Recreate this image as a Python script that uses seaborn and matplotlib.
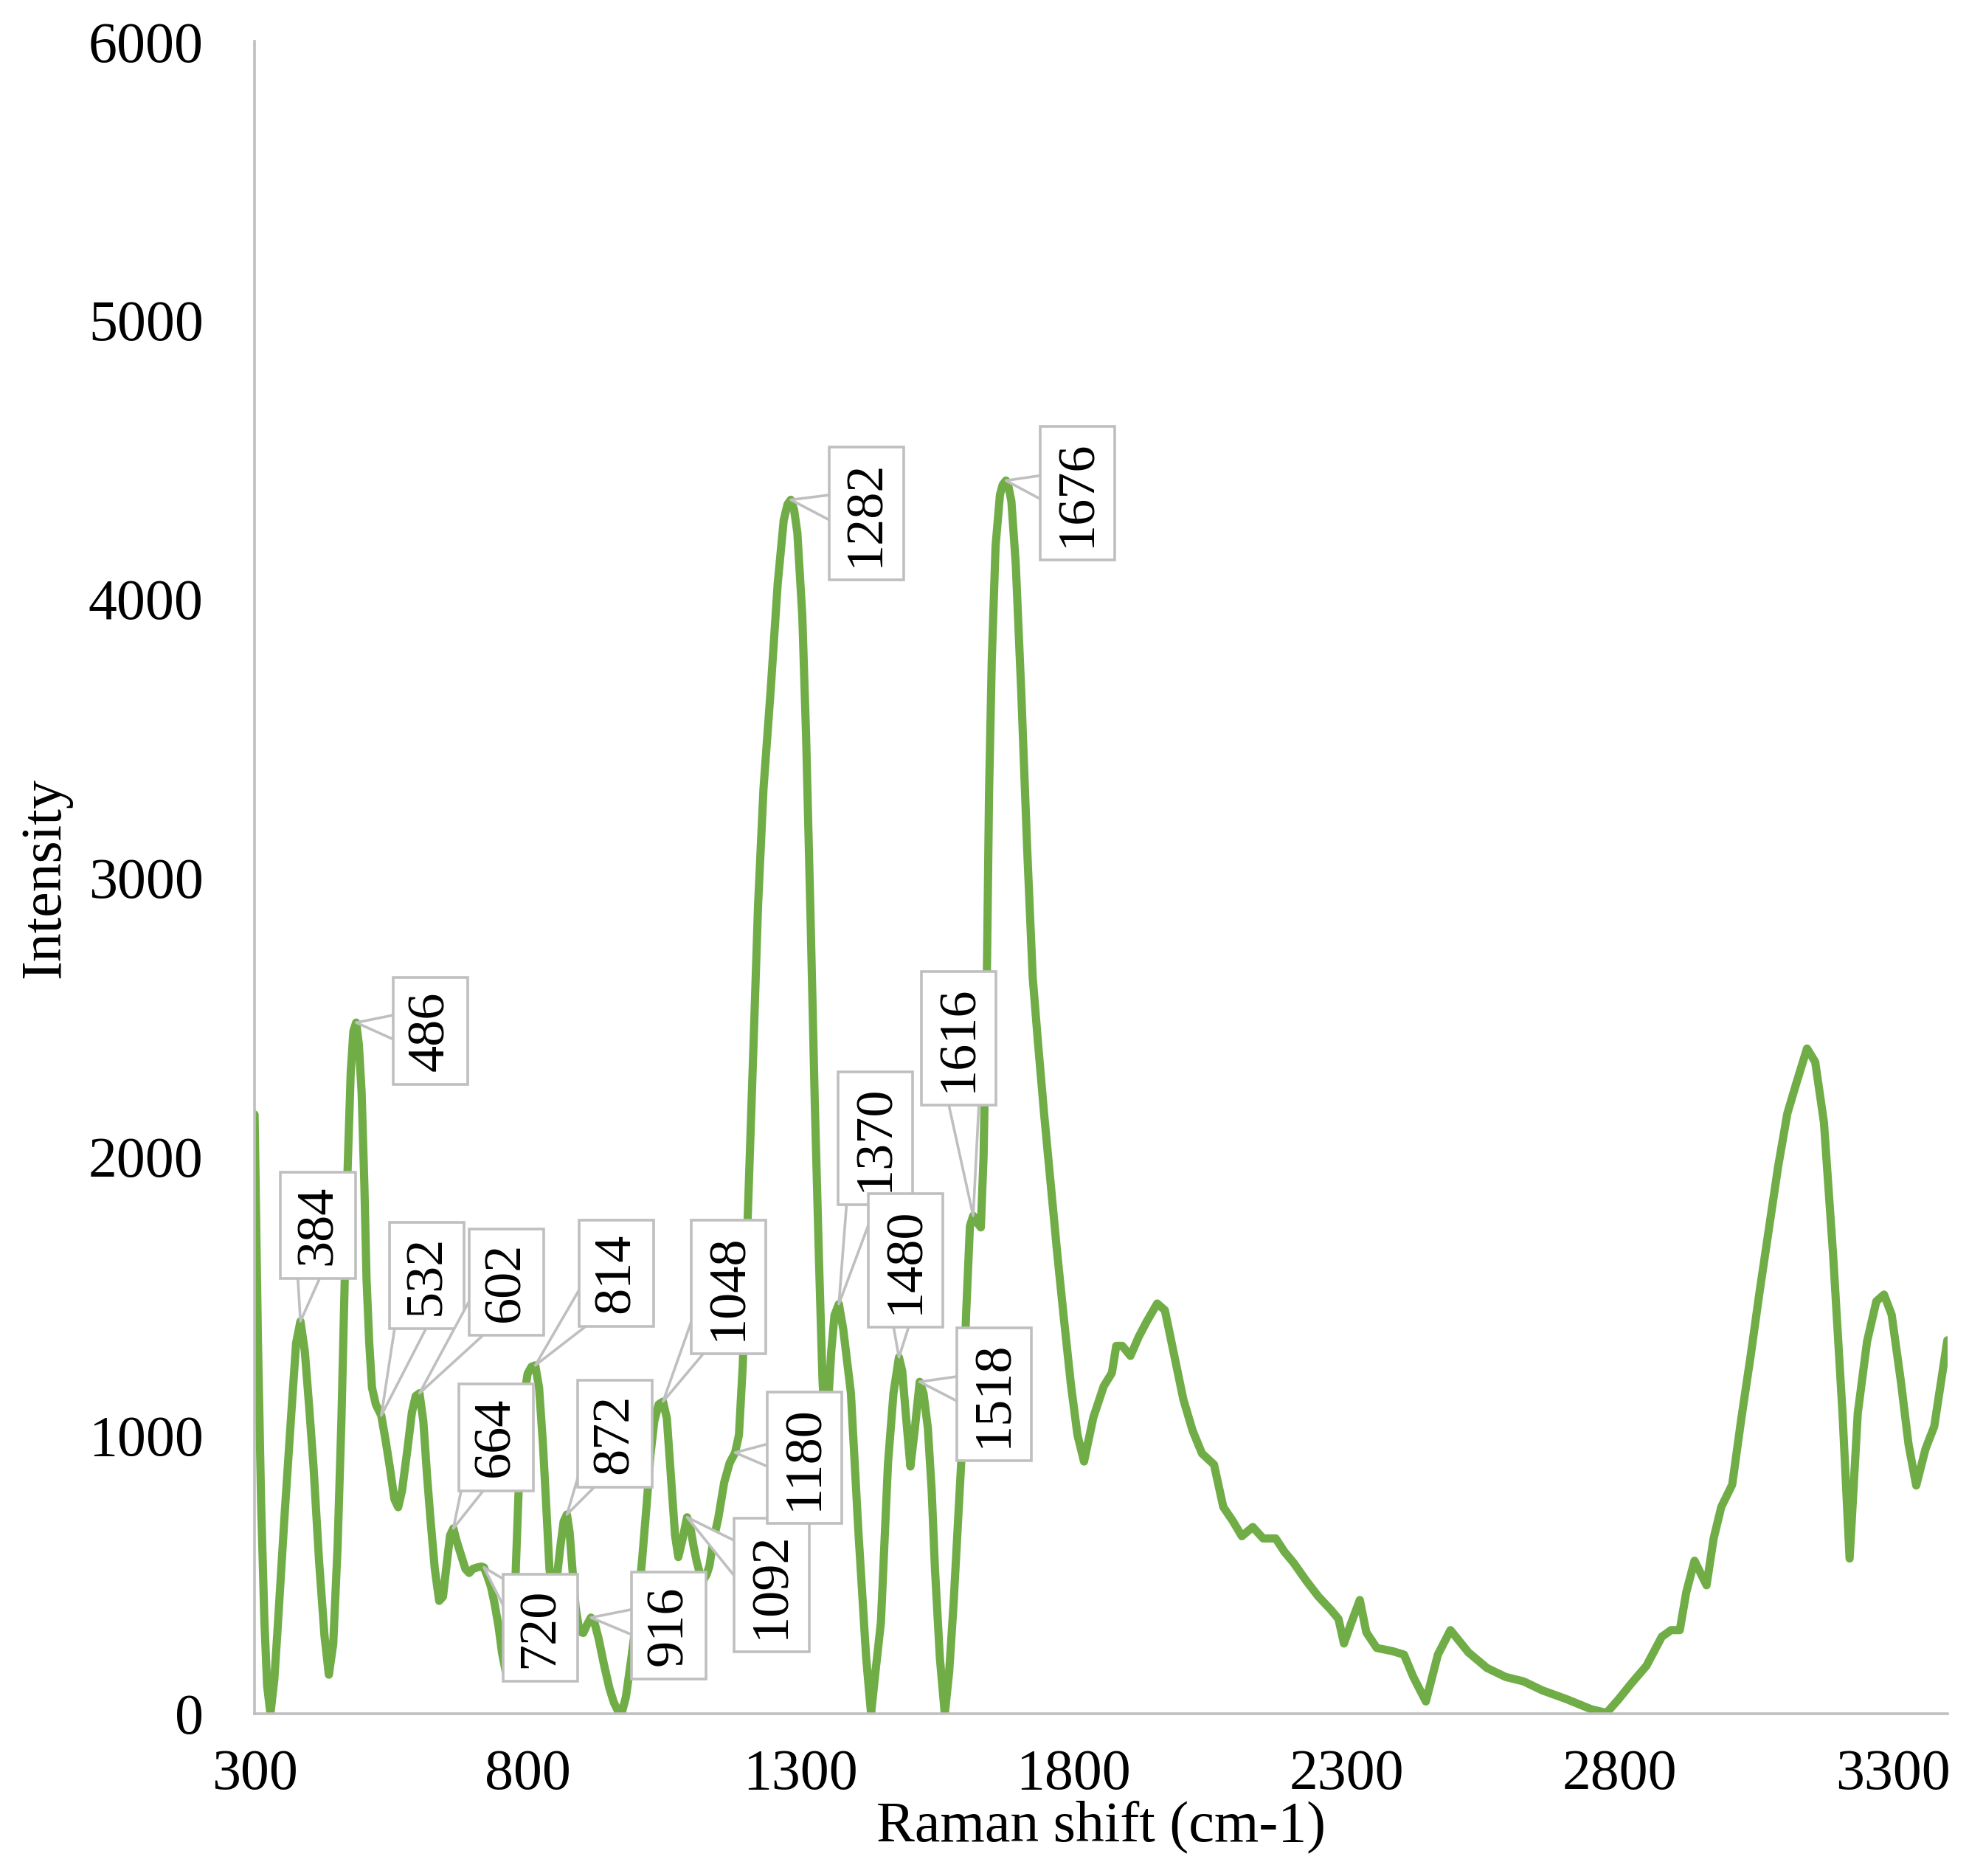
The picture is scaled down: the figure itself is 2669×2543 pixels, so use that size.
import numpy as np
import pandas as pd
import matplotlib
matplotlib.use("Agg")
import matplotlib.pyplot as plt
import seaborn as sns

# ---------------------------------------------------------
# data
# ---------------------------------------------------------
raman_shift = [
    300, 306, 312, 318, 323, 329, 336, 342, 355, 368, 376, 384, 392, 400, 408,
    418, 428, 436, 444, 452, 459, 465, 470, 476, 481, 486, 491, 496, 501, 505,
    510, 515, 522, 532, 540, 548, 556, 563, 570, 580, 588, 595, 602, 609, 616,
    622, 630, 638, 645, 652, 658, 664, 670, 678, 686, 693, 700, 708, 715, 720,
    727, 733, 740, 747, 753, 760, 767, 773, 778, 785, 792, 800, 807, 814, 821,
    828, 834, 840, 846, 853, 860, 866, 872, 877, 882, 888, 895, 902, 909, 916,
    922, 930, 940, 950, 958, 966, 972, 980, 990, 1000, 1010, 1018, 1025, 1032,
    1040, 1048, 1055, 1063, 1070, 1076, 1083, 1092, 1098, 1104, 1110, 1116,
    1122, 1128, 1133, 1140, 1149, 1160, 1170, 1180, 1187, 1194, 1200, 1207,
    1214, 1222, 1232, 1245, 1258, 1269, 1276, 1282, 1288, 1294, 1303, 1310,
    1318, 1326, 1334, 1340, 1345, 1350, 1356, 1362, 1370, 1378, 1392, 1406,
    1420, 1429, 1437, 1447, 1460, 1470, 1480, 1486, 1492, 1501, 1509, 1518,
    1525, 1533, 1540, 1546, 1555, 1564, 1572, 1580, 1594, 1603, 1610, 1616,
    1624, 1630, 1635, 1641, 1645, 1650, 1657, 1665, 1670, 1676, 1681, 1686,
    1694, 1704, 1715, 1725, 1735, 1746, 1758, 1770, 1782, 1795, 1807, 1819,
    1836, 1855, 1870, 1878, 1889, 1904, 1919, 1934, 1953, 1967, 1984, 2001,
    2018, 2035, 2057, 2074, 2091, 2108, 2128, 2147, 2170, 2186, 2203, 2226,
    2248, 2271, 2285, 2295, 2308, 2324, 2336, 2355, 2383, 2405, 2422, 2445,
    2467, 2490, 2523, 2557, 2591, 2624, 2658, 2703, 2748, 2776, 2798, 2821,
    2849, 2877, 2894, 2910, 2922, 2937, 2959, 2972, 2986, 3006, 3023, 3040,
    3056, 3073, 3090, 3107, 3124, 3143, 3158, 3174, 3191, 3208, 3221, 3236,
    3253, 3270, 3284, 3298, 3315, 3329, 3343, 3360, 3376, 3400,
]
intensity = [
    2150, 1350, 750, 330, 100, 0, 120, 300, 715, 1100, 1330, 1408, 1300, 1100,
    884, 550, 280, 140, 250, 600, 1053, 1550, 1932, 2300, 2450, 2480, 2400,
    2230, 1900, 1560, 1330, 1170, 1110, 1070, 980, 880, 770, 741, 800, 950,
    1080, 1140, 1150, 1050, 850, 700, 520, 405, 420, 540, 640, 665, 620, 570,
    520, 505, 520, 525, 528, 525, 490, 455, 390, 310, 220, 150, 130, 260, 500,
    880, 1120, 1220, 1245, 1250, 1170, 970, 750, 520, 430, 480, 600, 690, 715,
    650, 520, 380, 295, 290, 320, 345, 330, 270, 175, 90, 40, 8, 0, 60, 200,
    350, 560, 750, 930, 1050, 1110, 1120, 1060, 835, 640, 562, 620, 705, 670,
    600, 543, 500, 480, 500, 531, 620, 700, 830, 900, 937, 1000, 1250, 1600,
    2000, 2420, 2900, 3320, 3670, 4055, 4283, 4340, 4356, 4320, 4238, 3941,
    3507, 2869, 2185, 1600, 1200, 1000, 1100, 1300, 1430, 1470, 1380, 1152,
    646, 201, 0, 150, 328, 899, 1150, 1279, 1230, 1089, 887, 1020, 1191, 1150,
    1025, 800, 519, 200, 0, 150, 392, 899, 1432, 1750, 1787, 1760, 1745, 2000,
    2642, 3300, 3780, 4190, 4374, 4410, 4425, 4400, 4350, 4124, 3667, 3097,
    2642, 2400, 2150, 1900, 1650, 1420, 1180, 1000, 905, 1063, 1175, 1223,
    1320, 1320, 1284, 1352, 1408, 1472, 1448, 1287, 1127, 1015, 934, 894, 742,
    693, 637, 670, 629, 629, 581, 541, 477, 421, 373, 340, 252, 324, 408, 292,
    236, 225, 212, 132, 44, 212, 300, 220, 164, 132, 116, 84, 52, 16, 3, 52,
    108, 172, 276, 300, 300, 437, 549, 461, 629, 742, 822, 1063, 1287, 1512,
    1737, 1962, 2154, 2266, 2387, 2339, 2122, 1641, 1079, 557, 1079, 1336,
    1480, 1504, 1432, 1191, 966, 819, 950, 1031, 1340,
]

# peaks that carry a data callout
peak_labels = [384, 486, 532, 602, 664, 720, 814, 872, 916, 1048, 1092,
               1180, 1282, 1370, 1480, 1518, 1616, 1676]

x_ticks = [300, 800, 1300, 1800, 2300, 2800, 3300]
y_ticks = [0, 1000, 2000, 3000, 4000, 5000, 6000]

spectrum = pd.DataFrame({"shift": raman_shift, "intensity": intensity})

# where each callout box sits (data coordinates)
label_pos = {
    384: (416, 1753), 486: (622, 2450), 532: (615, 1572), 602: (761, 1549),
    664: (742, 992), 720: (823, 308), 814: (962, 1581), 872: (960, 1005),
    916: (1059, 317), 1048: (1168, 1531), 1092: (1247, 462),
    1180: (1307, 919), 1282: (1420, 4307), 1370: (1437, 2065),
    1480: (1492, 1626), 1518: (1654, 1146), 1616: (1589, 2423),
    1676: (1807, 4380),
}

# ---------------------------------------------------------
# style
# ---------------------------------------------------------
sns.set_style("white")
plt.rcParams["font.family"] = ["Liberation Serif", "DejaVu Serif"]
plt.rcParams["text.color"] = "black"
plt.rcParams["axes.labelcolor"] = "black"
plt.rcParams["xtick.color"] = "black"
plt.rcParams["ytick.color"] = "black"

green = "#70AD47"
grey = "#BFBFBF"

fig = plt.figure(figsize=(13.345, 12.715), dpi=200)
ax = fig.add_axes([0.1293, 0.0865, 0.8597, 0.8913])

sns.lineplot(data=spectrum, x="shift", y="intensity", ax=ax,
             color=green, linewidth=4.0, estimator=None, sort=False,
             solid_joinstyle="round", solid_capstyle="round")

ax.set_xlim(300, 3400)
ax.set_ylim(0, 6000)
ax.set_xticks(x_ticks)
ax.set_yticks(y_ticks)
ax.tick_params(axis="both", length=0, labelsize=28)
ax.tick_params(axis="y", pad=25)
ax.tick_params(axis="x", pad=17)

for side in ["top", "right"]:
    ax.spines[side].set_visible(False)
for side in ["left", "bottom"]:
    ax.spines[side].set_color(grey)
    ax.spines[side].set_linewidth(1.3)

ax.set_xlabel("Raman shift (cm-1)", fontsize=28)
ax.set_ylabel("Intensity", fontsize=28)
ax.xaxis.set_label_coords(0.5, -0.052)
ax.yaxis.set_label_coords(-0.108, 0.5)

# callouts: wedge starts at the box centre, the box hides its root
for lab in peak_labels:
    py = intensity[raman_shift.index(lab)]
    tx, ty = label_pos[lab]
    ax.annotate(str(lab), xy=(lab, py), xytext=(tx, ty),
                rotation=90, ha="center", va="center", fontsize=26,
                color="black",
                bbox=dict(boxstyle="square,pad=0.25", fc="white", ec=grey, lw=1.3),
                arrowprops=dict(arrowstyle="wedge,tail_width=0.9", fc="white",
                                ec=grey, lw=1.3, shrinkA=0, shrinkB=0,
                                patchA=None),
                zorder=5)

fig.savefig("out.png", dpi=200)
